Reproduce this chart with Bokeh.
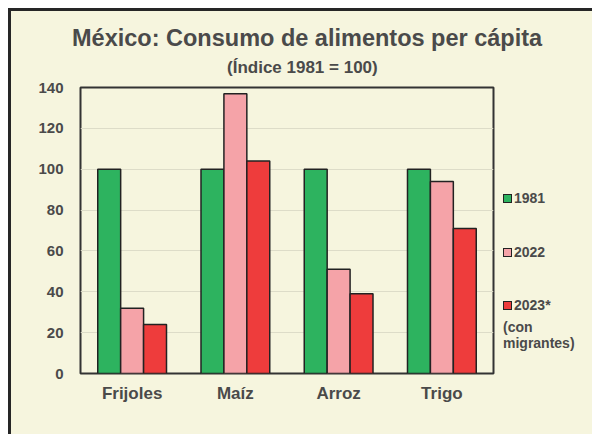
from bokeh.plotting import figure
from bokeh.models import (ColumnDataSource, FactorRange, Range1d, FixedTicker, Div)
from bokeh.layouts import row, column
from bokeh.transform import dodge
from bokeh.embed import file_html
from bokeh.resources import INLINE

categories = ["Frijoles", "Maíz", "Arroz", "Trigo"]
v1981 = [100, 100, 100, 100]
v2022 = [32, 137, 51, 94]
v2023 = [24, 104, 39, 71]
yticks = [0, 20, 40, 60, 80, 100, 120, 140]
series_names = ["1981", "2022", "2023*"]
series_colors = ["#2DB35F", "#F5A3A8", "#EE3C3C"]
note_lines = ["(con", "migrantes)"]
title_text = "México: Consumo de alimentos per cápita"
subtitle_text = "(Índice 1981 = 100)"

BG = "#F6F5DE"
TXT = "#4a4a4a"
FONT = "Liberation Sans"
HEAD_H = 66
BODY_H = 423 - HEAD_H

src = ColumnDataSource(dict(cat=categories, a=v1981, b=v2022, c=v2023))

p = figure(x_range=FactorRange(*categories, range_padding=0), y_range=Range1d(0, 140),
           width=484, height=BODY_H, output_backend="svg", toolbar_location=None,
           background_fill_color=BG, border_fill_color=BG,
           min_border_left=69, min_border_right=2, min_border_top=10, min_border_bottom=61)

w = 0.222
for col, off, color in zip(["a", "b", "c"], [-w, 0, w], series_colors):
    p.vbar(x=dodge("cat", off, range=p.x_range), top=col, width=w, source=src,
           fill_color=color, line_color="#222222", line_width=1.5)

p.outline_line_color = "#333333"
p.outline_line_width = 2
p.xgrid.grid_line_color = None
p.ygrid.grid_line_color = "#DDDCC8"
p.ygrid.grid_line_width = 1
p.yaxis.ticker = FixedTicker(ticks=yticks)
for ax in (p.xaxis[0], p.yaxis[0]):
    ax.axis_line_color = None
    ax.major_tick_line_color = None
    ax.minor_tick_line_color = None
    ax.major_label_text_font = FONT
    ax.major_label_text_font_style = "bold"
    ax.major_label_text_color = TXT
p.yaxis.major_label_text_font_size = "15px"
p.yaxis.major_label_standoff = 11
p.xaxis.major_label_text_font_size = "17px"
p.xaxis.major_label_standoff = 4

# heading (title + subtitle)
head_html = (
    f'<div style="position:relative;width:581px;height:{HEAD_H}px;font-family:\'{FONT}\';'
    f'font-weight:bold;color:{TXT};white-space:nowrap;">'
    f'<div style="position:absolute;left:61px;top:13px;font-size:23.5px;line-height:28px;">'
    f'{title_text}</div>'
    f'<div style="position:absolute;left:216px;top:49px;font-size:17px;line-height:16px;">'
    f'{subtitle_text}</div></div>')
head = Div(text=head_html, width=581, height=HEAD_H,
           styles={"background-color": BG, "margin": "0", "padding": "0",
                   "overflow": "visible"})

# legend (HTML, placed right of the plot frame)
item_centers = [121, 175, 228]
parts = []
for name, color, cy in zip(series_names, series_colors, item_centers):
    parts.append(
        f'<div style="position:absolute;left:8px;top:{cy-4}px;width:9px;height:9px;'
        f'box-sizing:border-box;border:1.5px solid #222;background:{color};"></div>'
        f'<div style="position:absolute;left:19px;top:{cy-8}px;line-height:16px;">{name}</div>')
parts.append(
    f'<div style="position:absolute;left:8px;top:242px;line-height:16px;">'
    f'{note_lines[0]}<br>{note_lines[1]}</div>')
leg_html = (f'<div style="position:relative;width:97px;height:{BODY_H}px;font-family:\'{FONT}\';'
            f'font-weight:bold;font-size:14px;color:{TXT};white-space:nowrap;">'
            + "".join(parts) + '</div>')
leg = Div(text=leg_html, width=97, height=BODY_H,
          styles={"background-color": BG, "margin": "0", "padding": "0"})

layout = column(head, row(p, leg, spacing=0), spacing=0,
                styles={"margin-left": "8px", "margin-top": "8px",
                        "border-left": "3px solid #262626", "border-top": "3px solid #262626",
                        "background-color": BG})

open("out.html", "w").write(file_html(layout, INLINE))
